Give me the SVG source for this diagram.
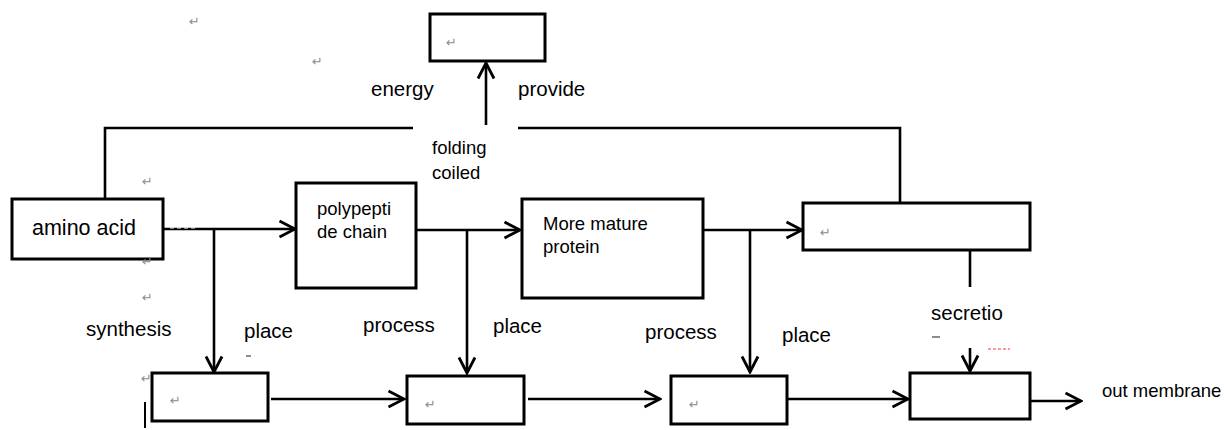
<svg xmlns="http://www.w3.org/2000/svg" width="1224" height="430" viewBox="0 0 1224 430">
<defs>
<style>
.box{fill:#fff;stroke:#000;stroke-width:3}
.ln{fill:none;stroke:#000;stroke-width:2.6}
.lbl{font-family:"Liberation Sans",Arial,sans-serif;font-size:20.5px;fill:#000}
.bt{font-family:"Liberation Sans",Arial,sans-serif;font-size:18.5px;fill:#000}
.pm{font-family:"DejaVu Sans",sans-serif;font-size:13px;fill:#8c8c8c}
</style>
<marker id="ah" markerUnits="userSpaceOnUse" markerWidth="20" markerHeight="20" viewBox="0 0 20 20" refX="18" refY="10" orient="auto">
<path d="M2.5,2 L18,10 L2.5,18" fill="none" stroke="#000" stroke-width="2.8"/>
</marker>
</defs>
<rect width="1224" height="430" fill="#fff"/>

<g id="connectors">
<polyline class="ln" points="105,198 105,128 413,128"/>
<polyline class="ln" points="518,128 900,128 900,203"/>
<line class="ln" x1="486" y1="125" x2="486" y2="63" marker-end="url(#ah)"/>
<line class="ln" x1="163" y1="229" x2="295" y2="229" marker-end="url(#ah)"/>
<line class="ln" x1="214" y1="229" x2="214" y2="372" marker-end="url(#ah)"/>
<line class="ln" x1="416" y1="230" x2="520" y2="230" marker-end="url(#ah)"/>
<line class="ln" x1="467" y1="230" x2="467" y2="373" marker-end="url(#ah)"/>
<line class="ln" x1="703" y1="230" x2="802" y2="230" marker-end="url(#ah)"/>
<line class="ln" x1="750" y1="230" x2="750" y2="372" marker-end="url(#ah)"/>
<line class="ln" x1="970" y1="251" x2="970" y2="287"/>
<line class="ln" x1="970" y1="348" x2="970" y2="371" marker-end="url(#ah)"/>
<line class="ln" x1="271" y1="399" x2="404" y2="399" marker-end="url(#ah)"/>
<line class="ln" x1="528" y1="399" x2="660" y2="399" marker-end="url(#ah)"/>
<line class="ln" x1="787" y1="399" x2="908" y2="399" marker-end="url(#ah)"/>
<line class="ln" x1="1030" y1="401" x2="1081" y2="401" marker-end="url(#ah)"/>
<line x1="170" y1="228" x2="196" y2="228" stroke="#fff" stroke-width="1" stroke-dasharray="4,3"/>
</g>

<g id="node-top">
<rect class="box" x="430" y="14" width="115" height="47"/>
<text class="pm" x="446" y="47">↵</text>
</g>

<g id="node-amino">
<rect class="box" x="12" y="199" width="151" height="60"/>
<text class="lbl" x="32" y="235" style="font-size:21.5px">amino acid</text>
</g>

<g id="node-polypeptide">
<rect class="box" x="296" y="183" width="120" height="105"/>
<text class="bt" x="317" y="215">polypepti</text>
<text class="bt" x="317" y="238">de chain</text>
</g>

<g id="node-mature">
<rect class="box" x="522" y="199" width="181" height="99"/>
<text class="bt" x="543" y="230">More mature</text>
<text class="bt" x="543" y="253">protein</text>
</g>

<g id="node-right">
<rect class="box" x="803" y="203" width="227" height="47"/>
<text class="pm" x="820" y="237">↵</text>
</g>

<g id="node-b1">
<rect class="box" x="152" y="373" width="116" height="48"/>
<text class="pm" x="170" y="405">↵</text>
</g>
<g id="node-b2">
<rect class="box" x="407" y="376" width="117" height="48"/>
<text class="pm" x="425" y="409">↵</text>
</g>
<g id="node-b3">
<rect class="box" x="671" y="376" width="116" height="48"/>
<text class="pm" x="689" y="409">↵</text>
</g>
<g id="node-b4">
<rect class="box" x="910" y="373" width="120" height="46"/>
</g>

<g id="labels">
<text class="lbl" x="371" y="96">energy</text>
<text class="lbl" x="518" y="96">provide</text>
<text class="bt" x="432" y="154">folding</text>
<text class="bt" x="432" y="179">coiled</text>
<text class="lbl" x="86" y="336">synthesis</text>
<text class="lbl" x="244" y="338">place</text>
<text class="lbl" x="363" y="332">process</text>
<text class="lbl" x="493" y="333">place</text>
<text class="lbl" x="645" y="339">process</text>
<text class="lbl" x="782" y="342">place</text>
<text class="lbl" x="931" y="320">secretio</text>
<text class="bt" x="1102" y="397">out membrane</text>
<line x1="246" y1="356" x2="251" y2="356" stroke="#444" stroke-width="1.2"/>
<line x1="932" y1="337" x2="940" y2="337" stroke="#444" stroke-width="1.2"/>
<line x1="988" y1="349" x2="1010" y2="349" stroke="#f33" stroke-width="1" stroke-dasharray="3,2"/>
<line x1="145" y1="402" x2="145" y2="428" stroke="#000" stroke-width="2"/>
</g>

<g id="marks">
<text class="pm" x="189" y="26">↵</text>
<text class="pm" x="312" y="66">↵</text>
<text class="pm" x="142" y="186">↵</text>
<text class="pm" x="142" y="266">↵</text>
<text class="pm" x="142" y="302">↵</text>
<text class="pm" x="141" y="383">↵</text>
</g>
</svg>
